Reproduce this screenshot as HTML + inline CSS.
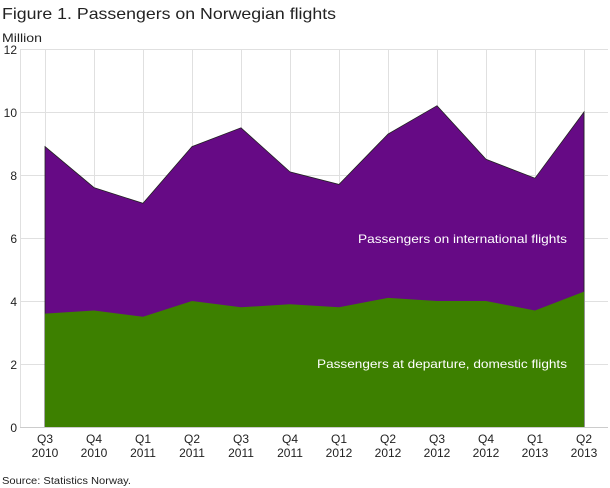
<!DOCTYPE html>
<html><head><meta charset="utf-8"><style>
html,body{margin:0;padding:0;background:#fff;width:610px;height:488px;overflow:hidden}
svg{display:block;font-family:"Liberation Sans","DejaVu Sans",sans-serif}
</style></head><body>
<svg width="610" height="488" viewBox="0 0 610 488">
<text x="2" y="19" font-size="16" fill="#222" textLength="334" lengthAdjust="spacingAndGlyphs">Figure 1. Passengers on Norwegian flights</text>
<text x="2" y="42" font-size="12" fill="#222" textLength="40" lengthAdjust="spacingAndGlyphs">Million</text>
<g stroke="#e0e0e0" stroke-width="1">
<line x1="20" y1="49.5" x2="608" y2="49.5"/>
<line x1="20" y1="112.5" x2="608" y2="112.5"/>
<line x1="20" y1="175.5" x2="608" y2="175.5"/>
<line x1="20" y1="238.5" x2="608" y2="238.5"/>
<line x1="20" y1="301.5" x2="608" y2="301.5"/>
<line x1="20" y1="364.5" x2="608" y2="364.5"/>
<line x1="20.5" y1="49" x2="20.5" y2="427"/>
<line x1="45.5" y1="49" x2="45.5" y2="427"/>
<line x1="94.5" y1="49" x2="94.5" y2="427"/>
<line x1="143.5" y1="49" x2="143.5" y2="427"/>
<line x1="192.5" y1="49" x2="192.5" y2="427"/>
<line x1="241.5" y1="49" x2="241.5" y2="427"/>
<line x1="290.5" y1="49" x2="290.5" y2="427"/>
<line x1="339.5" y1="49" x2="339.5" y2="427"/>
<line x1="388.5" y1="49" x2="388.5" y2="427"/>
<line x1="437.5" y1="49" x2="437.5" y2="427"/>
<line x1="486.5" y1="49" x2="486.5" y2="427"/>
<line x1="535.5" y1="49" x2="535.5" y2="427"/>
<line x1="584.5" y1="49" x2="584.5" y2="427"/>
</g>
<polygon fill="#660a85" stroke="#222" stroke-width="0.8" points="45,146.6 94,187.6 143,203.3 192,146.6 241,127.8 290,171.9 339,184.4 388,134.1 437,105.7 486,159.3 535,178.2 584,112 584,427 45,427"/>
<polygon fill="#3d8000" points="45,313.6 94,310.5 143,316.8 192,301 241,307.3 290,304.2 339,307.3 388,297.9 437,301 486,301 535,310.5 584,291.6 584,427 45,427"/>
<line x1="20" y1="427.5" x2="608" y2="427.5" stroke="#ccc"/>
<text x="358" y="243" font-size="12" fill="#fff" textLength="209" lengthAdjust="spacingAndGlyphs">Passengers on international flights</text>
<text x="317" y="368" font-size="12" fill="#fff" textLength="250" lengthAdjust="spacingAndGlyphs">Passengers at departure, domestic flights</text>
<g font-size="12" fill="#222" text-anchor="end">
<text x="17" y="54">12</text><text x="17" y="117">10</text><text x="17" y="180">8</text>
<text x="17" y="243">6</text><text x="17" y="306">4</text><text x="17" y="369">2</text><text x="17" y="432">0</text>
</g>
<g font-size="12" fill="#222" text-anchor="middle">
<text x="45" y="443">Q3</text><text x="45" y="457">2010</text>
<text x="94" y="443">Q4</text><text x="94" y="457">2010</text>
<text x="143" y="443">Q1</text><text x="143" y="457">2011</text>
<text x="192" y="443">Q2</text><text x="192" y="457">2011</text>
<text x="241" y="443">Q3</text><text x="241" y="457">2011</text>
<text x="290" y="443">Q4</text><text x="290" y="457">2011</text>
<text x="339" y="443">Q1</text><text x="339" y="457">2012</text>
<text x="388" y="443">Q2</text><text x="388" y="457">2012</text>
<text x="437" y="443">Q3</text><text x="437" y="457">2012</text>
<text x="486" y="443">Q4</text><text x="486" y="457">2012</text>
<text x="535" y="443">Q1</text><text x="535" y="457">2013</text>
<text x="584" y="443">Q2</text><text x="584" y="457">2013</text>
</g>
<text x="2" y="484" font-size="10" fill="#222" textLength="129" lengthAdjust="spacingAndGlyphs">Source: Statistics Norway.</text>
</svg>
</body></html>
